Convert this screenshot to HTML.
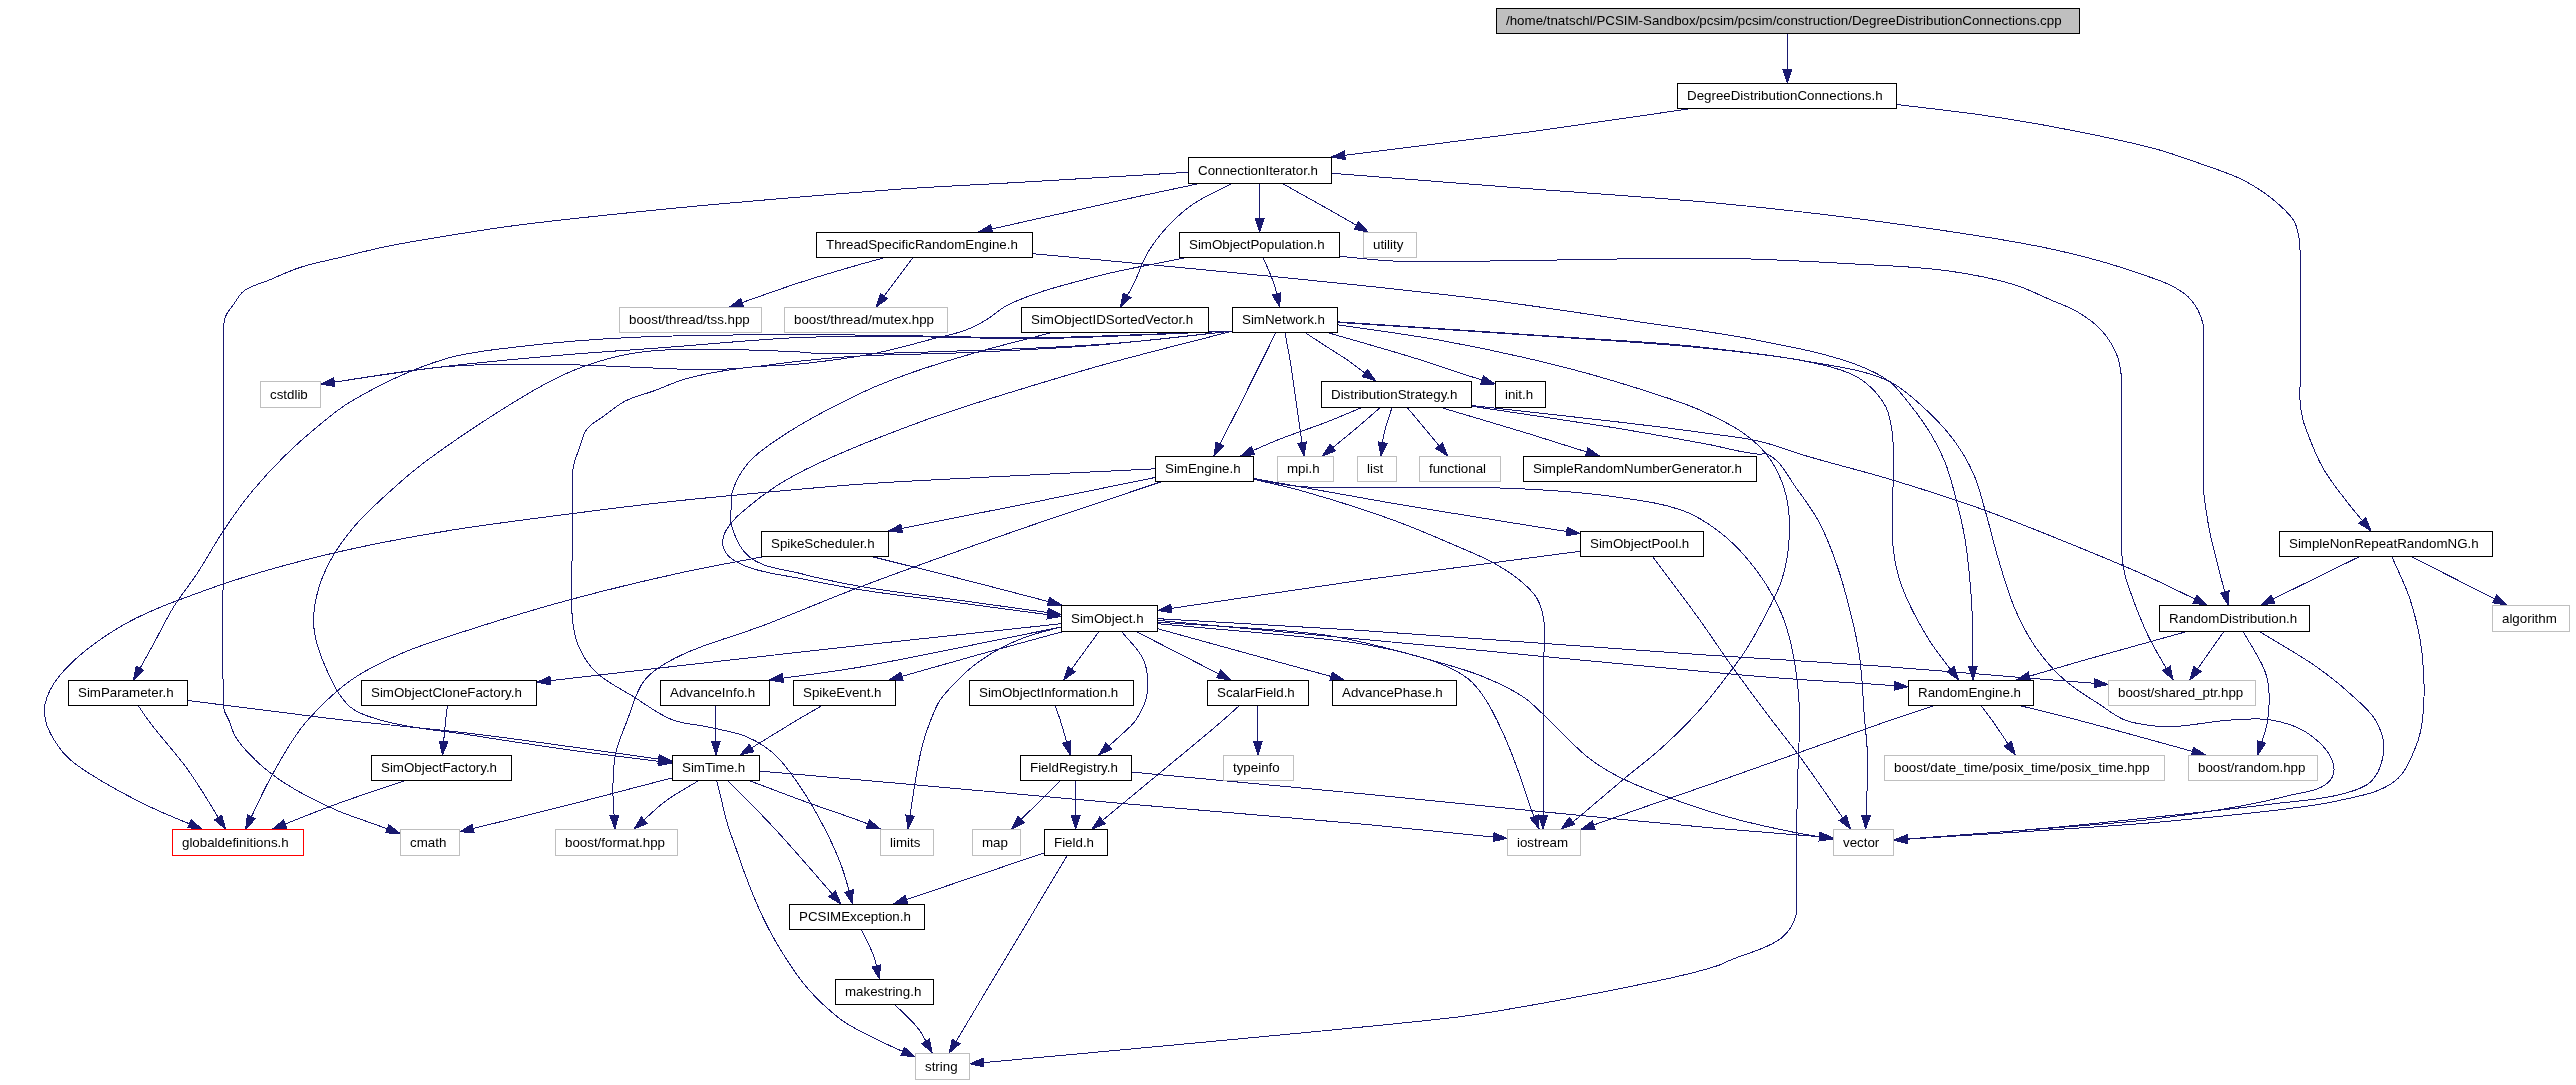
<!DOCTYPE html>
<html><head><meta charset="utf-8"><title>Include dependency graph</title>
<style>
html,body{margin:0;padding:0;background:#fff;}
svg{display:block;will-change:transform;}
text{font-family:"Liberation Sans",sans-serif;font-size:13.33px;fill:#000;text-anchor:start;}
.e{fill:none;stroke:#191970;stroke-width:1;shape-rendering:crispEdges;}
.a{fill:#191970;stroke:#191970;stroke-width:1;stroke-linejoin:miter;shape-rendering:crispEdges;}
.n{fill:#fff;stroke:#000;stroke-width:1;}
.g{fill:#fff;stroke:#bfbfbf;stroke-width:1;}
.r{fill:#fff;stroke:#f00;stroke-width:1;}
.t{fill:#bfbfbf;stroke:#000;stroke-width:1;}
</style></head>
<body>
<svg width="2576" height="1085" viewBox="0 0 2576 1085">
<rect x="0" y="0" width="2576" height="1085" fill="#fff"/>
<g class="e">
<path d="M1787.4,34.0L1787.4,83.0"/>
<path d="M1688.0,109.0C1634.5,116.7 1567.3,126.8 1527.7,132.2C1488.1,137.6 1396.9,148.7 1331.5,157.0"/>
<path d="M1897.0,104.5C1925.7,108.1 1954.5,111.0 1983.1,115.2C2005.4,118.4 2027.7,122.0 2049.9,126.2C2085.6,133.0 2121.5,139.7 2156.7,149.2C2171.4,153.2 2185.7,158.5 2200.1,163.6C2214.7,168.8 2229.7,173.2 2243.5,180.3C2253.5,185.4 2263.1,191.5 2271.9,198.6C2280.1,205.4 2288.9,212.3 2294.3,221.6C2297.2,226.6 2298.1,232.6 2299.1,238.3C2299.9,243.1 2299.9,247.9 2300.1,252.7C2300.3,259.1 2300.1,265.5 2300.1,271.9C2300.1,308.6 2300.1,345.3 2300.1,382.0C2300.1,388.4 2299.6,394.8 2300.1,401.2C2300.5,406.8 2301.2,412.5 2302.5,418.0C2303.4,422.1 2304.8,426.0 2306.3,429.9C2311.2,443.0 2316.2,456.1 2323.1,468.3C2329.8,480.2 2338.7,490.9 2347.0,501.8C2354.7,511.8 2363.0,521.3 2371.0,531.0"/>
<path d="M1188.0,172.3C1134.3,175.5 1066.9,179.6 1026.9,181.9C987.0,184.3 939.9,186.4 900.0,189.1C860.1,191.9 806.8,196.3 767.0,199.8C729.7,203.0 692.4,206.3 655.2,210.1C615.4,214.1 555.1,220.3 515.4,225.5C492.0,228.5 468.8,232.3 445.5,236.1C425.9,239.3 406.3,242.4 386.8,246.4C371.8,249.5 357.0,253.4 342.1,257.0C328.1,260.4 313.9,262.9 300.2,267.4C289.7,270.8 279.6,275.7 269.4,280.0C260.8,283.6 251.1,285.4 243.7,291.1C239.1,294.8 236.5,300.4 233.1,305.1C230.5,308.8 227.3,312.2 225.6,316.3C224.3,319.4 224.0,322.8 223.6,326.1C223.1,330.7 223.4,335.4 223.3,340.1C223.2,347.5 223.3,355.0 223.3,362.4C223.3,391.6 223.3,420.7 223.3,449.9C223.3,475.6 223.3,501.3 223.3,526.9C223.4,566.9 222.1,653.9 223.3,693.9C223.5,699.4 223.0,705.1 224.3,710.5C225.2,713.9 227.4,716.8 228.8,720.0C231.2,725.5 232.4,731.7 235.5,736.8C240.8,745.7 248.2,753.2 255.7,760.4C264.9,769.2 275.2,777.0 285.9,783.9C301.9,794.2 319.1,802.5 336.4,810.2C347.3,815.0 358.8,818.5 370.0,822.6C380.0,826.2 390.0,829.8 400.0,833.4"/>
<path d="M1197.2,184.0C1179.4,187.8 1161.6,191.5 1143.8,195.3C1115.9,201.3 1088.1,207.5 1060.3,213.7C1033.0,219.7 1005.8,225.9 978.5,232.0"/>
<path d="M1231.2,184.0C1218.8,190.5 1205.5,195.7 1193.9,203.6C1184.1,210.3 1175.2,218.3 1167.1,227.0C1159.6,235.2 1152.7,244.1 1147.1,253.7C1141.6,263.2 1138.7,274.0 1133.8,283.8C1129.7,291.7 1124.9,299.3 1120.4,307.0"/>
<path d="M1259.6,184.0L1259.6,232.0"/>
<path d="M1283.3,184.0C1298.0,192.2 1312.7,200.4 1327.4,208.7C1341.0,216.4 1354.5,224.2 1368.1,232.0"/>
<path d="M1332.0,173.3C1397.2,178.4 1487.8,185.5 1527.7,188.6C1567.6,191.7 1676.2,199.2 1716.0,203.0C1755.8,206.8 1843.3,216.6 1882.9,222.0C1922.6,227.4 2010.7,240.3 2049.9,248.7C2077.4,254.7 2104.8,261.6 2131.4,270.9C2149.5,277.2 2168.8,282.1 2184.1,293.4C2189.7,297.5 2194.1,303.2 2197.5,309.2C2200.4,314.2 2202.3,319.8 2203.3,325.5C2204.3,331.5 2203.3,337.6 2203.3,343.7C2203.3,383.7 2203.3,428.3 2203.3,468.3C2203.3,474.7 2202.9,481.1 2203.3,487.4C2203.8,495.5 2205.0,503.4 2206.2,511.4C2207.4,519.4 2208.8,527.4 2210.5,535.3C2215.6,558.8 2222.3,581.8 2228.2,605.0"/>
<path d="M883.4,258.0C875.6,260.1 867.8,262.2 860.0,264.4C840.3,270.1 820.7,275.8 801.2,282.1C777.1,289.9 753.4,298.7 729.5,307.0"/>
<path d="M912.7,258.0C906.3,266.6 899.8,275.2 893.4,283.8C887.6,291.5 881.8,299.3 876.0,307.0"/>
<path d="M1033.0,253.7C1086.6,258.7 1154.0,264.9 1193.9,268.8C1233.7,272.6 1321.0,281.2 1360.8,285.4C1400.6,289.7 1449.3,294.9 1488.9,300.0C1528.6,305.1 1603.4,316.4 1643.0,322.4C1680.7,328.0 1718.6,332.6 1756.1,340.0C1789.1,346.6 1822.5,352.3 1854.1,363.8C1866.4,368.3 1878.8,373.4 1889.2,381.3C1897.5,387.7 1903.6,396.6 1910.2,404.8C1917.8,414.3 1925.0,424.2 1931.2,434.6C1936.6,443.5 1941.4,452.9 1945.2,462.6C1949.7,473.9 1952.6,485.9 1955.7,497.6C1959.1,510.4 1962.2,523.2 1964.5,536.2C1966.9,550.1 1968.4,564.2 1969.7,578.2C1971.1,592.2 1972.0,606.2 1972.5,620.3C1973.3,640.2 1972.8,660.1 1972.9,680.0"/>
<path d="M1263.3,258.0C1266.9,266.6 1271.1,274.9 1274.0,283.8C1276.5,291.3 1277.8,299.3 1279.7,307.0"/>
<path d="M1340.0,256.4C1358.1,258.0 1376.1,260.3 1394.2,261.1C1434.1,262.7 1487.7,260.8 1527.7,260.4C1567.7,260.1 1676.0,257.5 1716.0,258.1C1756.0,258.7 1809.6,261.4 1849.5,263.7C1883.0,265.7 1916.6,266.3 1949.7,271.1C1972.2,274.3 1994.8,278.6 2016.5,285.4C2028.0,289.1 2038.9,294.8 2050.0,299.6C2059.6,303.8 2069.8,307.1 2078.7,312.6C2087.5,317.9 2096.0,324.0 2102.7,331.7C2108.8,338.8 2113.6,347.1 2117.1,355.7C2119.2,361.0 2120.1,366.8 2120.9,372.5C2121.8,378.8 2121.7,385.2 2121.9,391.6C2122.0,398.0 2121.9,404.4 2121.9,410.8C2121.9,450.8 2121.9,495.3 2121.9,535.3C2121.9,541.7 2121.4,548.1 2121.9,554.5C2122.3,560.9 2123.3,567.4 2124.7,573.7C2125.8,578.5 2127.4,583.3 2129.0,588.0C2134.7,604.3 2140.8,620.4 2148.2,635.9C2155.5,651.1 2164.8,665.3 2173.1,680.0"/>
<path d="M1183.8,258.0C1153.8,264.4 1123.4,269.1 1093.7,277.1C1064.3,285.0 1034.1,291.9 1006.9,305.5C999.3,309.3 993.3,315.7 986.0,320.0C979.5,323.9 972.8,327.5 965.7,330.1C955.9,333.9 945.5,335.6 935.3,338.2C915.1,343.5 895.0,349.4 874.5,353.5C851.1,358.0 827.3,361.0 803.5,363.6C783.3,365.8 762.9,365.4 742.7,368.0C723.6,370.5 704.5,373.6 686.0,378.8C674.8,381.9 664.4,387.0 653.5,391.0C644.1,394.4 634.1,396.5 625.1,401.1C617.8,404.9 611.5,410.4 604.9,415.3C598.7,419.9 591.2,423.3 586.6,429.5C582.7,434.7 581.7,441.6 579.5,447.7C577.4,453.7 574.7,459.7 573.5,466.0C572.5,470.6 572.6,475.4 572.4,480.2C572.2,487.6 572.4,495.0 572.4,502.5C572.4,515.0 572.4,527.5 572.4,540.0C572.5,566.8 569.7,593.7 572.6,620.4C573.4,628.3 574.6,636.4 577.6,643.8C581.5,653.5 586.9,662.9 594.3,670.5C605.4,682.0 620.7,688.6 634.3,697.2C646.9,705.1 658.9,714.7 672.8,720.0C683.5,724.1 695.3,724.2 706.5,726.7C720.0,729.8 734.1,731.4 746.8,736.8C756.6,741.0 765.8,746.6 773.7,753.6C784.5,763.2 792.5,775.4 800.6,787.3C809.5,800.1 817.0,813.8 824.2,827.6C830.4,839.7 836.3,852.0 841.0,864.7C845.8,877.5 848.9,890.9 852.8,904.0"/>
<path d="M1050.2,333.0C1025.3,339.5 1000.3,345.5 975.7,352.6C953.8,358.9 931.9,365.5 910.4,373.1C894.7,378.7 879.0,384.6 863.9,391.7C835.5,405.1 807.3,419.4 781.2,436.8C769.3,444.7 756.9,452.5 747.8,463.5C740.6,472.2 734.8,482.6 731.8,493.5C730.5,498.4 731.2,503.6 731.1,508.6C731.0,513.6 729.9,518.7 731.1,523.6C734.3,535.9 739.7,548.9 749.5,557.0C763.5,568.5 783.7,569.0 801.2,573.7C820.6,578.9 840.3,582.8 860.0,586.4C893.2,592.2 926.8,595.7 960.2,600.4C993.8,605.1 1027.4,609.7 1061.0,614.4"/>
<path d="M1232.0,331.2C1186.9,343.0 1135.2,355.6 1096.8,366.6C1058.3,377.6 962.9,406.3 925.3,420.1C887.8,433.8 829.8,456.2 794.6,475.2C780.4,482.8 766.9,491.7 754.5,501.9C744.2,510.4 732.6,518.5 726.1,530.3C723.7,534.8 722.0,540.2 722.8,545.3C723.5,549.7 726.3,553.8 729.5,557.0C734.4,561.9 741.3,564.5 747.8,567.0C764.9,573.4 783.4,575.0 801.2,578.7C820.8,582.6 840.3,586.5 860.0,589.7C893.3,595.0 926.8,598.6 960.2,603.0C993.8,607.5 1027.4,611.9 1061.0,616.4"/>
<path d="M1232.0,331.2C1168.3,333.7 1080.9,338.1 1040.9,338.6C1000.9,339.1 950.4,336.9 910.4,336.8C873.6,336.6 836.8,336.0 800.0,337.5C760.0,339.1 708.7,344.2 668.8,347.2C630.0,350.1 591.1,352.5 552.3,355.9C513.5,359.3 474.6,362.8 435.9,367.6C397.5,372.2 359.3,378.6 321.0,384.1"/>
<path d="M1232.0,331.2C1186.9,335.8 1136.6,342.0 1096.8,345.2C1056.9,348.4 1006.3,350.8 966.3,352.6C929.1,354.3 891.8,354.1 854.5,356.3C836.3,357.4 818.2,359.3 800.0,361.1C778.9,363.3 757.9,367.0 736.7,368.5C723.8,369.4 710.8,369.6 697.9,369.5C675.2,369.4 652.6,367.8 630.0,367.0C604.1,366.0 578.2,364.6 552.3,364.3C526.5,363.9 500.6,364.1 474.7,365.0C461.7,365.5 448.8,366.2 435.9,367.6C397.4,371.6 359.3,378.6 321.0,384.1"/>
<path d="M1232.0,331.2C1168.3,333.4 1080.9,337.3 1040.9,337.7C1000.9,338.1 950.4,336.4 910.4,335.8C873.6,335.4 836.8,334.5 800.0,334.6C760.0,334.7 669.9,335.5 630.0,337.5C594.3,339.2 558.7,341.9 523.2,346.2C497.2,349.4 470.7,351.3 445.6,358.8C412.3,368.8 380.5,384.0 350.5,401.7C338.6,408.8 327.9,417.9 317.2,426.8C305.6,436.3 294.4,446.3 283.8,456.8C272.0,468.5 260.8,480.7 250.4,493.5C240.8,505.3 232.1,517.7 223.7,530.3C214.2,544.4 206.3,559.5 197.0,573.7C189.5,585.0 180.8,595.5 173.6,607.0C166.3,618.9 160.3,631.6 153.6,643.8C146.9,655.9 140.2,667.9 133.5,680.0"/>
<path d="M1232.0,331.2C1193.1,335.2 1154.4,340.3 1115.4,343.3C1075.5,346.4 1006.3,349.4 966.3,350.7C926.4,352.1 857.2,354.9 817.3,353.5C811.5,353.3 805.8,352.3 800.0,352.0C760.0,350.1 689.2,347.2 649.4,351.1C633.0,352.6 616.7,356.1 600.9,360.8C584.2,365.7 567.8,372.2 552.3,380.2C516.8,398.5 459.5,436.4 427.3,460.2C412.1,471.4 397.9,484.0 383.9,496.9C373.5,506.5 363.0,516.1 353.9,526.9C345.2,537.3 337.0,548.4 330.5,560.3C324.8,570.9 320.0,582.1 317.2,593.7C314.5,604.6 312.8,615.9 313.8,627.1C315.1,640.9 319.8,654.4 325.5,667.1C331.9,681.5 338.6,696.9 350.5,707.2C358.7,714.2 369.8,717.0 380.1,720.0C409.6,728.7 440.7,730.3 471.0,735.1C504.6,740.5 538.2,745.6 571.9,750.3C605.2,754.9 638.6,758.8 672.0,763.1"/>
<path d="M1275.6,333.0C1271.2,342.0 1266.8,351.0 1262.3,360.0C1254.0,376.7 1245.7,393.4 1237.3,410.1C1229.5,425.4 1221.7,440.7 1213.9,456.0"/>
<path d="M1285.0,333.0C1286.7,342.0 1288.5,351.0 1290.0,360.0C1292.8,376.6 1294.9,393.4 1297.3,410.1C1299.6,425.4 1301.8,440.7 1304.0,456.0"/>
<path d="M1305.7,333.0C1312.9,337.7 1320.1,342.5 1327.4,347.2C1334.0,351.5 1340.9,355.5 1347.4,360.0C1352.0,363.2 1356.3,366.7 1360.8,370.0C1365.8,373.7 1370.8,377.3 1375.8,381.0"/>
<path d="M1329.1,333.0C1359.7,342.0 1390.4,350.5 1420.9,360.0C1434.3,364.2 1447.5,369.0 1460.9,373.4C1472.3,377.0 1483.6,380.5 1495.0,384.0"/>
<path d="M1338.0,324.8C1373.4,330.2 1409.0,334.5 1444.2,341.0C1483.6,348.3 1529.7,358.3 1568.4,368.3C1601.9,377.0 1635.0,387.2 1667.8,398.1C1678.7,401.8 1689.6,405.4 1700.0,410.1C1715.7,417.2 1731.7,424.3 1745.5,434.6C1754.8,441.5 1763.5,449.6 1770.1,459.1C1777.3,469.6 1782.6,481.7 1785.8,494.1C1789.3,507.8 1789.9,522.1 1789.3,536.2C1788.7,550.4 1786.5,564.6 1782.3,578.2C1777.8,592.9 1770.0,606.4 1762.9,620.0C1757.4,630.6 1751.7,641.0 1745.2,651.0C1739.8,659.4 1733.6,667.3 1727.5,675.3C1718.9,686.6 1710.4,697.9 1701.0,708.5C1688.5,722.5 1675.1,735.7 1661.2,748.3C1649.1,759.2 1636.0,768.8 1623.6,779.2C1613.9,787.3 1604.5,795.5 1594.8,803.6C1586.8,810.3 1579.1,817.5 1570.5,823.5C1567.5,825.5 1564.3,827.2 1561.2,829.0"/>
<path d="M1338.0,321.9C1414.8,327.0 1528.5,334.5 1568.4,337.3C1608.3,340.1 1660.3,342.3 1700.0,347.0C1739.7,351.7 1802.1,357.5 1840.1,369.8C1848.8,372.6 1857.4,376.4 1864.6,382.0C1873.1,388.7 1880.7,397.0 1885.7,406.6C1889.6,414.0 1890.9,422.7 1892.0,431.1C1897.2,470.4 1888.7,510.8 1893.4,550.2C1894.8,562.1 1897.4,573.9 1901.4,585.2C1908.1,603.7 1917.5,621.0 1927.7,637.8C1936.8,652.7 1948.3,665.9 1958.5,680.0"/>
<path d="M1338.0,322.4C1414.8,327.5 1528.5,334.9 1568.4,337.8C1608.3,340.6 1660.2,343.7 1700.0,347.7C1735.1,351.3 1770.4,354.6 1805.1,361.0C1833.5,366.2 1863.1,369.1 1889.2,381.3C1901.0,386.9 1910.9,396.1 1920.7,404.8C1932.1,415.0 1943.0,425.9 1952.2,438.1C1960.5,448.9 1967.6,460.7 1973.2,473.1C1978.8,485.4 1981.7,498.7 1985.5,511.7C1989.9,526.7 1993.2,542.1 1997.8,557.2C2003.1,574.9 2007.9,592.8 2015.3,609.7C2021.1,623.2 2027.9,636.3 2036.3,648.3C2044.4,659.8 2053.8,670.5 2064.3,679.8C2075.0,689.3 2087.5,696.5 2099.4,704.3C2107.7,709.8 2115.5,716.2 2124.7,720.0C2131.7,722.8 2139.2,723.9 2146.6,725.0C2154.4,726.2 2162.3,726.9 2170.1,726.7C2190.5,726.3 2210.4,721.1 2230.7,720.0C2244.1,719.3 2257.8,717.7 2271.1,720.0C2284.0,722.3 2297.3,725.9 2308.1,733.5C2318.8,741.0 2330.1,751.0 2333.3,763.7C2334.7,769.3 2333.7,776.2 2329.9,780.6C2320.2,791.8 2302.3,791.9 2287.9,795.7C2249.2,806.0 2193.0,814.2 2153.3,819.2C2113.6,824.3 1980.4,833.1 1894.0,840.1"/>
<path d="M1360.8,408.0C1349.6,412.6 1338.6,417.4 1327.4,421.8C1310.8,428.2 1293.8,433.5 1277.3,440.1C1264.9,445.1 1252.8,450.7 1240.6,456.0"/>
<path d="M1379.8,408.0C1371.2,415.4 1362.8,422.8 1354.1,430.1C1343.6,438.9 1333.0,447.4 1322.4,456.0"/>
<path d="M1391.8,408.0C1389.3,416.5 1386.1,424.8 1384.1,433.4C1382.5,440.9 1381.9,448.5 1380.8,456.0"/>
<path d="M1407.5,408.0C1414.2,415.9 1420.9,423.8 1427.5,431.8C1434.3,439.8 1440.9,447.9 1447.6,456.0"/>
<path d="M1442.6,408.0C1470.9,416.5 1499.4,424.8 1527.7,433.4C1551.7,440.8 1575.6,448.5 1599.5,456.0"/>
<path d="M1472.0,405.6C1519.1,410.8 1573.6,416.6 1613.4,421.4C1644.7,425.1 1676.1,428.9 1707.4,433.3C1724.9,435.7 1742.7,437.4 1760.0,441.4C1775.3,445.0 1790.0,451.1 1805.1,455.6C1834.2,464.2 1863.7,471.3 1892.7,480.1C1923.2,489.4 1953.7,499.0 1983.8,509.9C2021.3,523.6 2103.4,556.9 2140.0,573.0C2162.7,582.9 2184.8,594.3 2207.1,605.0"/>
<path d="M1472.0,406.3C1519.1,413.4 1573.9,421.2 1613.4,427.6C1644.8,432.8 1676.1,438.5 1707.4,444.2C1724.9,447.5 1742.2,453.1 1760.0,454.3C1762.2,454.4 1764.5,453.0 1766.6,453.9C1781.4,460.1 1788.3,477.8 1798.1,490.6C1805.7,500.7 1813.1,511.0 1819.1,522.2C1826.3,535.5 1831.6,549.9 1836.6,564.2C1842.2,580.3 1846.6,596.7 1850.6,613.2C1854.1,627.1 1857.4,641.1 1859.4,655.3C1862.5,676.7 1862.9,698.5 1864.6,720.1C1865.6,731.3 1867.1,742.4 1867.4,753.6C1868.1,778.8 1866.3,803.9 1865.7,829.0"/>
<path d="M1155.0,468.8C1101.2,471.5 1033.5,474.8 993.5,476.8C953.6,478.9 899.9,481.3 860.0,484.2C820.1,487.1 707.5,497.5 667.7,501.9C627.9,506.3 490.2,523.7 450.7,530.3C411.2,536.8 356.0,547.3 317.2,557.0C280.0,566.2 243.0,576.6 207.0,589.7C176.2,600.9 144.8,611.6 116.8,628.8C95.3,642.0 74.2,657.4 58.4,677.2C52.2,685.0 47.3,694.2 45.1,703.9C43.9,709.1 44.4,714.7 45.4,720.0C46.3,724.7 48.2,729.2 50.5,733.5C55.0,742.0 60.4,750.2 67.3,757.0C77.0,766.6 89.3,773.4 100.9,780.6C117.2,790.5 134.2,799.2 151.4,807.5C167.9,815.4 185.0,821.8 201.8,829.0"/>
<path d="M1155.0,477.5C1112.3,486.2 1066.1,495.7 1026.9,503.6C987.7,511.4 934.6,521.9 888.5,531.0"/>
<path d="M1160.5,482.0C1116.0,497.0 1064.7,513.8 1026.9,526.9C989.1,540.1 897.4,572.8 860.0,587.0C829.1,598.7 798.7,611.7 767.9,623.7C734.6,636.8 698.8,644.5 667.7,662.1C659.1,667.0 650.4,672.6 644.3,680.5C635.6,691.9 632.6,706.6 627.4,720.0C623.1,731.1 618.1,742.0 615.6,753.6C613.3,764.6 613.1,776.0 612.9,787.3C612.7,801.2 614.3,815.1 614.9,829.0"/>
<path d="M1254.0,478.5C1300.7,486.9 1354.7,496.8 1394.2,503.6C1433.6,510.3 1488.2,518.9 1527.7,525.3C1545.1,528.1 1562.6,530.8 1580.0,533.6"/>
<path d="M1260.6,480.9C1273.7,484.0 1287.0,486.7 1300.0,490.3C1331.7,499.2 1363.1,509.1 1394.0,520.4C1415.2,528.1 1436.0,537.1 1456.7,546.1C1469.3,551.6 1482.2,556.6 1494.3,563.3C1503.0,568.2 1511.6,573.5 1519.3,579.9C1525.7,585.2 1532.3,590.7 1536.6,597.8C1540.3,603.9 1542.3,611.1 1543.5,618.1C1545.9,632.6 1543.7,647.4 1543.8,662.0C1543.9,681.3 1543.9,700.7 1543.8,720.0C1543.6,756.3 1543.2,792.7 1542.9,829.0"/>
<path d="M1254.0,479.5C1269.3,481.9 1284.5,485.3 1300.0,486.5C1339.9,489.7 1385.3,486.7 1425.3,487.2C1456.7,487.5 1488.0,487.2 1519.3,488.7C1550.8,490.3 1582.2,492.0 1613.4,496.6C1637.6,500.1 1662.5,502.8 1685.4,511.6C1696.7,515.9 1707.0,522.7 1716.8,529.8C1724.7,535.5 1732.0,542.1 1738.7,549.2C1749.1,560.3 1758.5,572.4 1766.6,585.2C1773.5,596.3 1779.5,608.0 1784.1,620.3C1789.1,633.8 1792.2,648.1 1794.6,662.3C1797.8,681.4 1799.4,700.8 1799.8,720.1C1800.1,731.3 1798.8,742.5 1798.4,753.6C1797.7,776.1 1797.1,798.5 1796.7,820.9C1796.3,847.8 1796.2,874.7 1796.1,901.7C1796.0,906.1 1797.0,910.7 1796.1,915.1C1795.0,919.9 1792.8,924.5 1790.0,928.6C1786.9,933.1 1782.9,937.3 1778.2,940.3C1763.6,950.1 1745.6,953.5 1729.5,960.5C1726.2,961.9 1723.2,963.8 1719.9,964.9C1691.9,974.5 1662.6,979.7 1633.7,985.8C1594.6,994.0 1505.1,1010.5 1465.5,1016.0C1425.9,1021.6 1236.2,1039.1 1196.4,1042.9C1156.6,1046.8 1045.5,1056.9 970.0,1063.8"/>
<path d="M873.4,557.0C902.3,564.2 931.3,571.3 960.2,578.7C994.0,587.3 1027.7,596.2 1061.5,605.0"/>
<path d="M761.5,557.0C735.8,562.0 710.0,566.4 684.4,572.0C645.3,580.5 606.2,589.9 567.5,600.4C533.9,609.5 500.5,619.7 467.4,630.4C445.0,637.7 422.2,644.3 400.6,653.8C383.3,661.4 366.0,669.5 350.5,680.5C334.7,691.7 320.8,705.6 307.8,720.0C302.2,726.2 297.3,733.2 292.7,740.2C284.1,753.2 276.5,766.8 269.1,780.6C260.7,796.4 253.4,812.9 245.6,829.0"/>
<path d="M1580.0,551.3C1506.9,561.0 1400.4,574.8 1360.8,580.3C1321.2,585.9 1225.6,600.4 1158.0,610.4"/>
<path d="M1652.9,557.0C1668.6,578.1 1684.7,598.9 1700.0,620.3C1710.8,635.3 1720.8,650.8 1731.5,665.8C1744.7,684.1 1758.2,702.1 1771.8,720.1C1781.1,732.5 1790.9,744.5 1800.1,757.0C1817.4,780.6 1833.7,805.0 1850.6,829.0"/>
<path d="M2358.7,557.0L2260.8,605.0"/>
<path d="M2412.1,557.0L2506.6,605.0"/>
<path d="M2392.0,557.0C2398.2,571.5 2405.7,585.4 2410.4,600.4C2415.9,617.7 2420.1,635.7 2422.1,653.8C2424.5,675.7 2425.1,698.1 2422.5,720.0C2421.3,729.2 2419.3,738.4 2415.7,746.9C2410.7,759.0 2405.7,772.3 2395.5,780.6C2379.9,793.3 2358.0,796.2 2338.4,800.7C2299.4,809.8 2193.2,818.9 2153.3,822.6C2113.5,826.3 1980.4,834.3 1894.0,840.1"/>
<path d="M2185.1,632.0C2151.1,641.5 2117.1,650.8 2083.2,660.5C2060.9,666.8 2038.7,673.5 2016.5,680.0"/>
<path d="M2223.5,632.0L2189.7,680.0"/>
<path d="M2243.5,632.0C2251.3,647.1 2262.7,660.7 2266.9,677.2C2270.4,691.0 2269.6,705.8 2267.7,720.0C2266.1,732.0 2261.0,743.3 2257.6,755.0"/>
<path d="M2260.2,632.0C2279.1,643.7 2298.8,654.3 2316.9,667.1C2328.6,675.4 2339.8,684.2 2350.3,693.9C2359.2,702.0 2369.2,709.6 2375.4,720.0C2380.1,728.1 2383.9,737.5 2383.8,746.9C2383.6,758.8 2379.8,771.6 2372.0,780.6C2366.2,787.1 2356.8,789.7 2348.4,792.3C2323.6,800.2 2296.9,800.7 2271.1,804.1C2231.4,809.3 2092.2,823.9 2052.4,827.6C2012.6,831.4 1946.8,835.9 1894.0,840.1"/>
<path d="M1061.0,623.7C994.0,631.0 899.8,641.1 860.0,645.4C820.2,649.8 707.4,662.6 667.7,667.1C628.0,671.7 580.6,677.2 537.0,682.2"/>
<path d="M1061.0,627.1C994.0,640.4 899.4,660.4 860.0,667.1C830.0,672.3 799.7,675.7 769.5,680.0"/>
<path d="M1061.5,632.0C1034.4,639.4 1007.4,646.6 980.3,654.2C949.8,662.6 919.4,671.4 888.9,680.0"/>
<path d="M1061.0,627.0C1050.2,630.0 1039.1,632.4 1028.5,636.1C1020.3,639.0 1012.2,642.3 1004.4,646.2C996.1,650.4 988.0,655.3 980.3,660.7C975.3,664.2 970.5,668.1 965.9,672.2C960.8,676.7 956.1,681.6 951.5,686.6C947.2,691.3 942.7,695.8 939.4,701.1C935.3,707.8 932.7,715.4 929.8,722.7C927.0,729.8 924.5,737.1 922.6,744.4C919.6,755.5 917.8,766.8 915.8,778.1C912.9,795.0 910.7,812.0 908.1,829.0"/>
<path d="M1098.7,632.0L1063.6,680.0"/>
<path d="M1122.1,632.0C1129.3,641.5 1139.4,649.4 1143.8,660.5C1147.9,670.9 1148.8,682.8 1147.1,693.9C1145.7,703.2 1141.2,712.1 1135.9,720.0C1131.4,726.6 1124.8,731.4 1119.0,736.8C1112.5,743.1 1105.6,748.9 1098.8,755.0"/>
<path d="M1137.1,632.0L1230.6,680.0"/>
<path d="M1158.0,628.8C1192.2,638.2 1226.4,647.7 1260.6,657.1C1288.4,664.8 1316.3,672.4 1344.1,680.0"/>
<path d="M1158.0,623.7C1225.6,630.4 1321.4,636.9 1360.8,643.8C1387.6,648.4 1414.6,653.7 1440.0,663.6C1450.2,667.5 1460.3,672.4 1468.8,679.3C1474.9,684.3 1479.8,690.8 1484.2,697.4C1491.3,707.8 1496.6,719.2 1501.9,730.6C1508.6,745.0 1514.2,759.9 1519.6,774.8C1523.6,785.8 1526.7,797.0 1530.7,808.0C1533.3,815.1 1536.3,822.0 1539.1,829.0"/>
<path d="M1158.0,622.1C1214.5,626.5 1287.9,629.1 1327.4,635.4C1365.5,641.5 1402.8,652.2 1440.0,662.7C1454.9,666.9 1469.9,671.1 1484.2,677.1C1498.0,682.8 1511.7,689.0 1524.0,697.4C1531.4,702.4 1537.5,709.0 1543.9,715.1C1550.8,721.5 1557.1,728.5 1563.9,735.0C1572.5,743.3 1580.8,752.1 1590.4,759.3C1600.1,766.6 1610.6,772.7 1621.4,778.1C1634.2,784.6 1647.7,789.7 1661.2,794.7C1683.0,802.9 1705.1,810.5 1727.5,816.8C1749.4,823.0 1771.6,827.8 1793.9,832.3C1806.8,834.9 1820.0,836.7 1833.0,839.0"/>
<path d="M1158.0,620.4C1252.0,629.1 1400.2,642.8 1440.0,646.5C1476.9,650.0 1513.7,653.7 1550.6,657.2C1587.4,660.7 1624.3,664.2 1661.2,667.6C1698.0,670.9 1734.9,674.6 1771.8,677.5C1808.6,680.4 1845.5,682.2 1882.3,684.8C1890.9,685.4 1899.4,686.1 1908.0,686.8"/>
<path d="M1158.0,618.7C1225.6,622.6 1320.9,627.8 1360.8,630.4C1400.7,633.0 1660.1,651.9 1700.0,654.6C1739.9,657.3 1835.3,662.9 1875.2,665.8C1915.1,668.7 1975.4,673.8 2015.3,677.0C2046.2,679.5 2077.1,681.9 2108.0,684.4"/>
<path d="M138.5,706.0C141.7,710.7 144.7,715.5 148.0,720.0C160.8,737.3 175.9,752.9 188.4,770.5C201.8,789.3 213.1,809.5 225.4,829.0"/>
<path d="M188.0,700.5C214.4,703.9 240.7,707.2 267.1,710.5C292.4,713.7 317.8,717.1 343.1,720.0C382.9,724.6 431.2,728.7 471.0,733.5C504.7,737.5 538.3,742.3 571.9,746.9C605.3,751.5 638.6,756.3 672.0,761.0"/>
<path d="M447.4,706.0C446.8,710.7 446.2,715.3 445.7,720.0C444.5,731.7 443.5,743.3 442.4,755.0"/>
<path d="M715.4,706.0L715.9,755.0"/>
<path d="M821.3,706.0C813.3,710.7 805.2,715.2 797.3,720.0C778.1,731.5 759.2,743.3 740.1,755.0"/>
<path d="M1055.3,706.0C1056.9,710.7 1058.7,715.3 1060.2,720.0C1063.8,731.6 1066.9,743.3 1070.3,755.0"/>
<path d="M1257.3,706.0L1258.0,755.0"/>
<path d="M1238.9,706.0C1233.7,710.7 1228.6,715.4 1223.3,720.0C1203.4,737.2 1183.0,753.7 1162.8,770.5C1139.2,790.0 1115.7,809.5 1092.1,829.0"/>
<path d="M1933.0,706.0C1919.0,710.7 1904.9,715.2 1890.9,720.0C1853.1,733.0 1753.7,769.0 1716.0,782.2C1688.6,791.9 1661.1,801.2 1633.7,810.8C1616.1,817.0 1598.6,823.3 1581.0,829.5"/>
<path d="M1981.4,706.0C1984.9,710.7 1988.5,715.3 1991.9,720.0C2000.0,731.5 2007.6,743.3 2015.4,755.0"/>
<path d="M2021.5,706.0C2040.2,710.7 2059.0,715.1 2077.6,720.0C2116.3,730.1 2162.9,743.3 2205.5,755.0"/>
<path d="M403.7,781.0C381.3,788.7 358.7,795.9 336.4,804.1C314.9,812.0 293.8,820.7 272.5,829.0"/>
<path d="M672.0,777.9C638.6,786.6 605.3,795.6 571.9,804.1C534.7,813.6 497.3,822.5 460.0,831.7"/>
<path d="M698.0,781.0C687.4,787.6 676.1,793.3 666.1,800.7C654.7,809.2 644.8,819.6 634.1,829.0"/>
<path d="M716.7,781.0C718.3,787.4 719.9,793.9 721.5,800.3C723.5,808.4 725.2,816.5 727.6,824.4C730.0,832.6 733.2,840.5 736.0,848.5C738.8,856.5 741.4,864.6 744.4,872.5C749.0,884.7 753.5,896.8 758.9,908.6C762.9,917.7 767.4,926.6 772.2,935.4C776.7,943.6 781.6,951.6 786.6,959.4C792.0,967.6 797.3,975.9 803.5,983.5C809.4,990.8 815.9,997.5 822.7,1004.0C829.6,1010.4 836.6,1016.8 844.4,1022.0C855.7,1029.6 868.3,1035.2 880.5,1041.3C891.8,1046.8 903.5,1051.7 915.0,1056.9"/>
<path d="M728.3,781.0C743.5,796.5 759.0,811.7 773.7,827.6C796.8,852.5 818.6,878.5 841.0,904.0"/>
<path d="M750.2,781.0C769.2,788.1 788.2,795.5 807.4,802.4C824.9,808.8 842.6,814.4 860.0,820.9C866.9,823.5 873.7,826.3 880.5,829.0"/>
<path d="M760.0,771.1C793.3,774.0 826.7,776.9 860.0,779.9C899.8,783.4 1089.3,800.6 1129.1,804.1C1169.0,807.6 1324.8,820.6 1364.6,824.3C1404.4,828.0 1459.5,833.7 1507.0,838.4"/>
<path d="M1060.2,781.0L1011.4,829.0"/>
<path d="M1075.6,781.0L1075.6,829.0"/>
<path d="M1132.0,772.1C1209.5,779.4 1324.8,790.1 1364.6,794.0C1404.4,797.9 1493.0,806.9 1532.8,810.8C1572.6,814.7 1676.2,824.8 1716.0,828.3C1755.0,831.8 1794.0,834.6 1833.0,837.7"/>
<path d="M1044.0,852.9L893.6,904.0"/>
<path d="M1066.9,856.0L949.1,1053.0"/>
<path d="M861.7,930.0C865.6,938.5 870.3,946.7 873.5,955.5C876.2,963.1 877.5,971.2 879.5,979.0"/>
<path d="M895.3,1005.0C903.2,1013.2 912.1,1020.4 918.9,1029.5C924.3,1036.7 927.8,1045.2 932.3,1053.0"/>
</g>
<g class="a">
<path d="M1787.4,83.0L1783.0,69.5L1791.8,69.5Z"/>
<path d="M1331.5,157.0L1344.3,150.9L1345.4,159.7Z"/>
<path d="M2371.0,531.0L2359.0,523.4L2365.8,517.8Z"/>
<path d="M400.0,833.4L385.8,832.9L388.8,824.7Z"/>
<path d="M978.5,232.0L990.7,224.8L992.7,233.3Z"/>
<path d="M1120.4,307.0L1123.3,293.1L1130.9,297.5Z"/>
<path d="M1259.6,232.0L1255.2,218.5L1264.0,218.5Z"/>
<path d="M1368.1,232.0L1354.2,229.1L1358.6,221.5Z"/>
<path d="M2228.2,605.0L2220.6,593.0L2229.1,590.8Z"/>
<path d="M729.5,307.0L740.8,298.4L743.7,306.7Z"/>
<path d="M876.0,307.0L880.6,293.6L887.6,298.8Z"/>
<path d="M1972.9,680.0L1968.4,666.5L1977.2,666.5Z"/>
<path d="M1279.7,307.0L1272.2,294.9L1280.7,292.8Z"/>
<path d="M2173.1,680.0L2162.6,670.4L2170.3,666.1Z"/>
<path d="M852.8,904.0L844.7,892.3L853.1,889.8Z"/>
<path d="M1061.0,614.4L1047.0,616.9L1048.2,608.2Z"/>
<path d="M1061.0,616.4L1047.0,619.0L1048.2,610.3Z"/>
<path d="M321.0,384.1L333.7,377.8L335.0,386.5Z"/>
<path d="M321.0,384.1L333.7,377.8L335.0,386.5Z"/>
<path d="M133.5,680.0L136.2,666.1L143.9,670.3Z"/>
<path d="M672.0,763.1L658.1,765.7L659.2,757.0Z"/>
<path d="M1213.9,456.0L1216.1,442.0L1223.9,446.0Z"/>
<path d="M1304.0,456.0L1297.7,443.3L1306.4,442.0Z"/>
<path d="M1375.8,381.0L1362.3,376.6L1367.5,369.5Z"/>
<path d="M1495.0,384.0L1480.8,384.2L1483.4,375.8Z"/>
<path d="M1561.2,829.0L1569.3,817.3L1574.6,824.4Z"/>
<path d="M1958.5,680.0L1947.0,671.7L1954.1,666.5Z"/>
<path d="M1894.0,840.1L1907.1,834.6L1907.8,843.4Z"/>
<path d="M1240.6,456.0L1251.2,446.6L1254.7,454.7Z"/>
<path d="M1322.4,456.0L1330.1,444.1L1335.6,450.9Z"/>
<path d="M1380.8,456.0L1378.4,442.0L1387.1,443.3Z"/>
<path d="M1447.6,456.0L1435.6,448.4L1442.4,442.8Z"/>
<path d="M1599.5,456.0L1585.3,456.2L1587.9,447.8Z"/>
<path d="M2207.1,605.0L2193.1,603.2L2196.8,595.2Z"/>
<path d="M1865.7,829.0L1861.6,815.4L1870.4,815.6Z"/>
<path d="M201.8,829.0L187.7,827.7L191.2,819.7Z"/>
<path d="M888.5,531.0L900.9,524.1L902.6,532.7Z"/>
<path d="M614.9,829.0L609.9,815.7L618.7,815.3Z"/>
<path d="M1580.0,533.6L1566.0,535.8L1567.4,527.1Z"/>
<path d="M1542.9,829.0L1538.6,815.5L1547.4,815.5Z"/>
<path d="M970.0,1063.8L983.0,1058.2L983.8,1066.9Z"/>
<path d="M1061.5,605.0L1047.3,605.9L1049.5,597.3Z"/>
<path d="M245.6,829.0L247.5,814.9L255.4,818.8Z"/>
<path d="M1158.0,610.4L1170.7,604.1L1172.0,612.8Z"/>
<path d="M1850.6,829.0L1839.2,820.5L1846.4,815.4Z"/>
<path d="M2260.8,605.0L2271.0,595.1L2274.9,603.0Z"/>
<path d="M2506.6,605.0L2492.5,602.8L2496.5,595.0Z"/>
<path d="M1894.0,840.1L1907.2,834.8L1907.8,843.6Z"/>
<path d="M2016.5,680.0L2028.2,672.0L2030.7,680.4Z"/>
<path d="M2189.7,680.0L2193.9,666.4L2201.1,671.5Z"/>
<path d="M2257.6,755.0L2257.1,740.8L2265.6,743.2Z"/>
<path d="M1894.0,840.1L1907.1,834.7L1907.8,843.4Z"/>
<path d="M537.0,682.2L549.9,676.3L550.9,685.0Z"/>
<path d="M769.5,680.0L782.2,673.7L783.5,682.5Z"/>
<path d="M888.9,680.0L900.7,672.1L903.1,680.6Z"/>
<path d="M908.1,829.0L905.8,815.0L914.5,816.3Z"/>
<path d="M1063.6,680.0L1068.1,666.5L1075.2,671.7Z"/>
<path d="M1098.8,755.0L1105.9,742.7L1111.8,749.2Z"/>
<path d="M1230.6,680.0L1216.6,677.7L1220.6,669.9Z"/>
<path d="M1344.1,680.0L1329.9,680.7L1332.2,672.2Z"/>
<path d="M1539.1,829.0L1530.0,818.1L1538.2,814.8Z"/>
<path d="M1833.0,839.0L1819.0,841.0L1820.4,832.4Z"/>
<path d="M1908.0,686.8L1894.2,690.1L1894.9,681.4Z"/>
<path d="M2108.0,684.4L2094.2,687.7L2094.9,678.9Z"/>
<path d="M225.4,829.0L214.5,819.9L221.9,815.2Z"/>
<path d="M672.0,761.0L658.0,763.5L659.2,754.8Z"/>
<path d="M442.4,755.0L439.3,741.1L448.0,742.0Z"/>
<path d="M715.9,755.0L711.4,741.5L720.2,741.5Z"/>
<path d="M740.1,755.0L749.3,744.2L753.9,751.7Z"/>
<path d="M1070.3,755.0L1062.3,743.2L1070.7,740.8Z"/>
<path d="M1258.0,755.0L1253.4,741.6L1262.2,741.4Z"/>
<path d="M1092.1,829.0L1099.7,817.0L1105.3,823.8Z"/>
<path d="M1581.0,829.5L1592.3,820.8L1595.2,829.1Z"/>
<path d="M2015.4,755.0L2004.2,746.3L2011.5,741.3Z"/>
<path d="M2205.5,755.0L2191.3,755.7L2193.6,747.2Z"/>
<path d="M272.5,829.0L283.5,820.0L286.7,828.2Z"/>
<path d="M460.0,831.7L472.1,824.2L474.2,832.7Z"/>
<path d="M634.1,829.0L641.3,816.8L647.2,823.4Z"/>
<path d="M915.0,1056.9L900.9,1055.3L904.5,1047.3Z"/>
<path d="M841.0,904.0L828.8,896.8L835.4,891.0Z"/>
<path d="M880.5,829.0L866.3,828.1L869.6,820.0Z"/>
<path d="M1507.0,838.4L1493.1,841.5L1494.0,832.7Z"/>
<path d="M1011.4,829.0L1017.9,816.4L1024.1,822.7Z"/>
<path d="M1075.6,829.0L1071.2,815.5L1080.0,815.5Z"/>
<path d="M1833.0,837.7L1819.2,841.0L1819.9,832.3Z"/>
<path d="M893.6,904.0L905.0,895.5L907.8,903.8Z"/>
<path d="M949.1,1053.0L952.3,1039.2L959.9,1043.7Z"/>
<path d="M879.5,979.0L871.9,967.0L880.4,964.8Z"/>
<path d="M932.3,1053.0L921.8,1043.5L929.4,1039.1Z"/>
</g>
<rect class="t" x="1496.5" y="8.5" width="583.0" height="25.0"/><text x="1506.0" y="25.3">/home/tnatschl/PCSIM-Sandbox/pcsim/pcsim/construction/DegreeDistributionConnections.cpp</text>
<rect class="n" x="1677.5" y="83.5" width="219.0" height="25.0"/><text x="1687.0" y="100.3">DegreeDistributionConnections.h</text>
<rect class="n" x="1188.5" y="157.5" width="143.0" height="26.0"/><text x="1198.0" y="174.8">ConnectionIterator.h</text>
<rect class="n" x="816.5" y="232.5" width="216.0" height="25.0"/><text x="826.0" y="249.3">ThreadSpecificRandomEngine.h</text>
<rect class="n" x="1179.5" y="232.5" width="160.0" height="25.0"/><text x="1189.0" y="249.3">SimObjectPopulation.h</text>
<rect class="g" x="1363.5" y="232.5" width="53.0" height="25.0"/><text x="1373.0" y="249.3">utility</text>
<rect class="g" x="619.5" y="307.5" width="142.0" height="25.0"/><text x="629.0" y="324.3">boost/thread/tss.hpp</text>
<rect class="g" x="784.5" y="307.5" width="163.0" height="25.0"/><text x="794.0" y="324.3">boost/thread/mutex.hpp</text>
<rect class="n" x="1021.5" y="307.5" width="187.0" height="25.0"/><text x="1031.0" y="324.3">SimObjectIDSortedVector.h</text>
<rect class="n" x="1232.5" y="307.5" width="105.0" height="25.0"/><text x="1242.0" y="324.3">SimNetwork.h</text>
<rect class="g" x="260.5" y="381.5" width="60.0" height="26.0"/><text x="270.0" y="398.8">cstdlib</text>
<rect class="n" x="1321.5" y="381.5" width="150.0" height="26.0"/><text x="1331.0" y="398.8">DistributionStrategy.h</text>
<rect class="n" x="1495.5" y="381.5" width="50.0" height="26.0"/><text x="1505.0" y="398.8">init.h</text>
<rect class="n" x="1155.5" y="456.5" width="98.0" height="25.0"/><text x="1165.0" y="473.3">SimEngine.h</text>
<rect class="g" x="1277.5" y="456.5" width="56.0" height="25.0"/><text x="1287.0" y="473.3">mpi.h</text>
<rect class="g" x="1357.5" y="456.5" width="39.0" height="25.0"/><text x="1367.0" y="473.3">list</text>
<rect class="g" x="1419.5" y="456.5" width="81.0" height="25.0"/><text x="1429.0" y="473.3">functional</text>
<rect class="n" x="1523.5" y="456.5" width="233.0" height="25.0"/><text x="1533.0" y="473.3">SimpleRandomNumberGenerator.h</text>
<rect class="n" x="761.5" y="531.5" width="127.0" height="25.0"/><text x="771.0" y="548.3">SpikeScheduler.h</text>
<rect class="n" x="1580.5" y="531.5" width="123.0" height="25.0"/><text x="1590.0" y="548.3">SimObjectPool.h</text>
<rect class="n" x="2279.5" y="531.5" width="213.0" height="25.0"/><text x="2289.0" y="548.3">SimpleNonRepeatRandomNG.h</text>
<rect class="n" x="1061.5" y="605.5" width="96.0" height="26.0"/><text x="1071.0" y="622.8">SimObject.h</text>
<rect class="n" x="2159.5" y="605.5" width="150.0" height="26.0"/><text x="2169.0" y="622.8">RandomDistribution.h</text>
<rect class="g" x="2492.5" y="605.5" width="77.0" height="26.0"/><text x="2502.0" y="622.8">algorithm</text>
<rect class="n" x="68.5" y="680.5" width="119.0" height="25.0"/><text x="78.0" y="697.3">SimParameter.h</text>
<rect class="n" x="361.5" y="680.5" width="175.0" height="25.0"/><text x="371.0" y="697.3">SimObjectCloneFactory.h</text>
<rect class="n" x="660.5" y="680.5" width="109.0" height="25.0"/><text x="670.0" y="697.3">AdvanceInfo.h</text>
<rect class="n" x="793.5" y="680.5" width="102.0" height="25.0"/><text x="803.0" y="697.3">SpikeEvent.h</text>
<rect class="n" x="969.5" y="680.5" width="164.0" height="25.0"/><text x="979.0" y="697.3">SimObjectInformation.h</text>
<rect class="n" x="1207.5" y="680.5" width="101.0" height="25.0"/><text x="1217.0" y="697.3">ScalarField.h</text>
<rect class="n" x="1332.5" y="680.5" width="124.0" height="25.0"/><text x="1342.0" y="697.3">AdvancePhase.h</text>
<rect class="n" x="1908.5" y="680.5" width="125.0" height="25.0"/><text x="1918.0" y="697.3">RandomEngine.h</text>
<rect class="g" x="2108.5" y="680.5" width="147.0" height="25.0"/><text x="2118.0" y="697.3">boost/shared_ptr.hpp</text>
<rect class="n" x="371.5" y="755.5" width="140.0" height="25.0"/><text x="381.0" y="772.3">SimObjectFactory.h</text>
<rect class="n" x="672.5" y="755.5" width="87.0" height="25.0"/><text x="682.0" y="772.3">SimTime.h</text>
<rect class="n" x="1020.5" y="755.5" width="111.0" height="25.0"/><text x="1030.0" y="772.3">FieldRegistry.h</text>
<rect class="g" x="1223.5" y="755.5" width="70.0" height="25.0"/><text x="1233.0" y="772.3">typeinfo</text>
<rect class="g" x="1884.5" y="755.5" width="280.0" height="25.0"/><text x="1894.0" y="772.3">boost/date_time/posix_time/posix_time.hpp</text>
<rect class="g" x="2188.5" y="755.5" width="129.0" height="25.0"/><text x="2198.0" y="772.3">boost/random.hpp</text>
<rect class="r" x="172.5" y="829.5" width="131.0" height="26.0"/><text x="182.0" y="846.8">globaldefinitions.h</text>
<rect class="g" x="400.5" y="829.5" width="59.0" height="26.0"/><text x="410.0" y="846.8">cmath</text>
<rect class="g" x="555.5" y="829.5" width="122.0" height="26.0"/><text x="565.0" y="846.8">boost/format.hpp</text>
<rect class="g" x="880.5" y="829.5" width="53.0" height="26.0"/><text x="890.0" y="846.8">limits</text>
<rect class="g" x="972.5" y="829.5" width="48.0" height="26.0"/><text x="982.0" y="846.8">map</text>
<rect class="n" x="1044.5" y="829.5" width="63.0" height="26.0"/><text x="1054.0" y="846.8">Field.h</text>
<rect class="g" x="1507.5" y="829.5" width="73.0" height="26.0"/><text x="1517.0" y="846.8">iostream</text>
<rect class="g" x="1833.5" y="829.5" width="60.0" height="26.0"/><text x="1843.0" y="846.8">vector</text>
<rect class="n" x="789.5" y="904.5" width="135.0" height="25.0"/><text x="799.0" y="921.3">PCSIMException.h</text>
<rect class="n" x="835.5" y="979.5" width="98.0" height="25.0"/><text x="845.0" y="996.3">makestring.h</text>
<rect class="g" x="915.5" y="1053.5" width="54.0" height="26.0"/><text x="925.0" y="1070.8">string</text>
</svg>
</body></html>
